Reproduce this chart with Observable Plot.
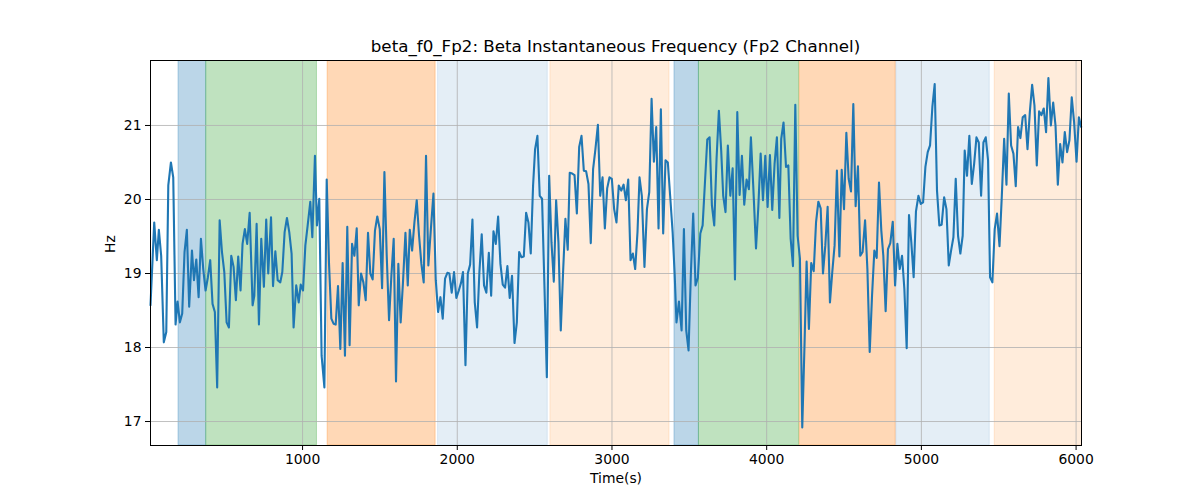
<!DOCTYPE html>
<html><head><meta charset="utf-8">
<script src="https://cdn.jsdelivr.net/npm/d3@7"></script>
<script src="https://cdn.jsdelivr.net/npm/@observablehq/plot@0.6"></script>
<style>
body{margin:0;background:#fff;font-family:"DejaVu Sans",sans-serif;}
#wrap{position:relative;width:1200px;height:500px;}
#title{position:absolute;left:150px;width:931px;top:36px;text-align:center;font-size:16.7px;line-height:20px;color:#000;}
#chart{position:absolute;left:0;top:0;}
</style></head><body>
<div id="wrap"><div id="chart"></div><div id="title">beta_f0_Fp2: Beta Instantaneous Frequency (Fp2 Channel)</div></div>
<script>
// ---- data ----
const t1 = [17,41,58,71,86,103,119,132,149,164,179,192,207,222,237,252,267,285,298,313,328,343,358,373,388,403,418,433,448,464,479,494,509,524,539,554,569,584,599,612,627,642,658];
const v1 = [18.57,19.69,19.18,19.59,19.24,18.07,18.21,20.19,20.50,20.30,18.31,18.62,18.34,18.46,19.29,19.59,18.55,19.31,18.91,19.19,18.68,19.47,19.06,18.77,18.95,19.18,18.59,18.48,17.46,19.72,19.29,19.02,18.34,18.27,19.24,19.09,18.64,19.23,18.77,19.40,19.60,19.40,19.82];
const t2 = [677,688,703,718,733,750,765,778,796,809,824,839,856,869,884,899,914,929,942,959,975,988,1003,1018,1033,1050,1063,1080,1093,1108,1123,1141,1156,1171,1186,1201,1214,1229,1244,1259,1274,1289,1304,1320,1335,1350];
const v2 = [18.57,18.70,19.67,18.31,19.47,18.82,19.73,19.00,19.76,18.83,19.30,18.91,18.88,19.02,19.56,19.75,19.56,19.27,18.27,18.84,18.61,18.85,18.77,19.38,19.65,19.97,19.49,20.59,19.65,20.01,17.89,17.46,20.27,19.13,18.39,18.32,18.31,18.83,17.98,19.14,17.89,19.63,18.03,19.40,19.24,19.61];
const t3 = [1363,1378,1393,1408,1423,1438,1453,1468,1483,1499,1514,1529,1544,1559,1574,1589,1604,1619,1634,1649,1665,1680,1693,1708,1723,1738,1753,1768,1783,1798,1813,1828,1846,1861,1876,1891,1906,1921,1936,1949,1964,1979,1994,2010,2025];
const v3 = [18.57,19.00,18.88,18.64,19.55,19.00,18.92,19.58,19.77,19.60,18.80,20.37,19.24,18.37,18.97,19.47,17.54,19.13,18.34,18.88,19.55,18.84,19.59,19.31,19.69,19.99,19.51,19.13,18.88,20.59,19.11,19.56,20.08,18.91,18.48,18.68,18.39,18.93,19.01,19.00,18.74,19.02,18.67,18.77,18.88];
const t4 = [2037,2053,2068,2083,2098,2113,2128,2143,2158,2173,2188,2204,2219,2234,2249,2264,2279,2294,2309,2324,2339,2354,2370,2385,2400,2415,2430,2445,2460,2475,2490,2503,2518,2533,2548,2564,2579,2594,2609,2624,2639,2654,2669,2684,2699,2714,2727];
const v4 = [19.02,17.76,19.00,19.12,19.73,18.61,18.27,19.02,19.53,18.84,18.74,19.28,18.70,19.57,19.40,19.77,19.13,18.85,18.81,19.10,18.67,18.97,18.06,18.34,19.29,19.22,19.23,19.82,19.69,19.27,20.19,20.68,20.86,20.05,20.01,18.79,17.60,20.32,19.42,18.89,19.99,19.42,18.23,19.02,19.74,19.32,20.36];
const t5 = [2743,2758,2773,2788,2803,2818,2833,2848,2863,2878,2893,2909,2924,2939,2954,2969,2984,2999,3014,3029,3044,3060,3075,3090,3105,3120,3135,3150,3165,3178,3193,3210,3226,3241,3256,3271,3286,3301,3316,3331,3346,3361,3376,3392];
const v5 = [20.35,20.33,19.81,20.71,20.86,20.39,20.38,20.21,19.41,20.41,20.68,21.01,20.05,20.30,19.61,20.15,20.30,20.28,19.87,19.69,20.19,20.12,20.20,19.99,20.27,19.18,19.27,19.06,19.56,20.30,20.05,19.09,19.87,20.10,21.36,20.51,20.98,19.61,21.22,19.54,20.53,20.50,20.05,19.56];
const t6 = [3405,3417,3433,3450,3465,3480,3495,3510,3525,3540,3555,3571,3586,3601,3616,3631,3646,3661,3676,3691,3706,3719,3734,3749,3765,3780,3795,3810,3825,3840,3855,3870,3885,3898,3913,3931,3946,3961,3976,3991,4006,4021,4036,4051,4066,4082];
const v6 = [19.00,18.34,18.62,18.23,19.60,18.23,17.96,19.00,19.81,18.84,18.94,19.54,19.65,20.23,20.81,20.84,19.92,19.65,20.55,21.20,20.66,20.05,19.83,20.73,20.05,20.42,18.92,21.18,20.06,20.59,19.93,20.27,20.14,20.84,20.19,19.34,19.90,20.62,19.99,20.59,19.90,20.60,19.86,20.48,20.84,19.75];
const t7 = [4094,4109,4125,4140,4155,4170,4185,4200,4215,4230,4245,4258,4273,4288,4304,4319,4334,4349,4364,4379,4394,4409,4424,4439,4454,4470,4485,4500,4515,4530,4545,4560,4575,4590,4605,4620,4636,4651,4666,4681,4696,4711,4726,4741];
const v7 = [20.82,21.04,20.44,20.46,19.47,19.10,21.28,19.51,19.20,16.92,18.07,19.16,18.25,19.14,19.03,19.69,19.97,19.88,19.00,19.38,19.90,18.61,19.02,19.38,20.39,19.23,20.40,19.87,20.90,20.28,20.11,21.29,19.91,20.45,19.24,19.29,19.72,19.06,17.94,18.70,19.31,19.21,20.23,19.58];
const t8 = [4754,4769,4784,4799,4815,4830,4845,4860,4875,4890,4905,4920,4935,4950,4965,4981,4996,5011,5026,5041,5056,5071,5086,5101,5116,5131,5147,5162,5177,5192,5207,5222,5237,5252,5267,5280,5295,5310,5326,5341,5356,5371,5386,5401,5416,5431,5444];
const v8 = [19.24,18.49,19.33,19.41,19.70,18.84,19.40,19.06,19.24,18.79,17.99,19.79,19.42,18.95,19.84,20.05,19.94,19.96,20.44,20.64,20.73,21.25,21.56,20.12,19.65,19.66,20.03,19.87,19.11,19.31,19.49,20.28,19.51,19.27,19.51,20.66,20.32,20.86,20.21,20.48,20.84,20.77,20.05,20.77,20.84,20.53,18.95];
const t9 = [5459,5474,5489,5505,5520,5535,5550,5565,5580,5595,5610,5625,5640,5655,5671,5686,5701,5716,5731,5746,5761,5776,5791,5806,5821,5837,5852,5867,5882,5897,5912,5927,5942,5957,5972,5987,6003,6018,6033];
const v9 = [18.88,19.60,19.81,19.37,20.05,20.82,20.20,21.43,20.73,20.62,20.18,20.98,20.83,21.11,21.14,20.68,21.18,21.55,21.27,20.46,21.19,21.14,21.23,20.91,21.64,21.00,21.31,21.00,20.20,20.75,20.50,20.91,20.64,20.80,21.38,21.05,20.51,21.11,20.98];

const spanStart = [198, 377, 1162, 1876, 2602, 3404, 3562, 4213, 4838, 5474];
const spanEnd   = [377, 1093, 1860, 2585, 3372, 3562, 4209, 4834, 5442, 6040];
const spanKind  = ["blue","green","orange","lightblue","lightorange","blue","green","orange","lightblue","lightorange"];
const xTicks = [1000, 2000, 3000, 4000, 5000, 6000];
const yTicks = [17, 18, 19, 20, 21];

// ---- build ----
const times = [].concat(t1,t2,t3,t4,t5,t6,t7,t8,t9);
const vals = [].concat(v1,v2,v3,v4,v5,v6,v7,v8,v9);
const series = times.map((t,i)=>({t, v: vals[i]}));
const spans = spanStart.map((s,i)=>({start:s, end:spanEnd[i], kind:spanKind[i]}));
const kindStyle = {
  blue:["#1f77b4",0.3], green:["#2ca02c",0.3], orange:["#ff7f0e",0.3],
  lightblue:["#1f77b4",0.12], lightorange:["#ff7f0e",0.15]
};
const spanMarks = Object.keys(kindStyle).map(k => Plot.rect(spans.filter(d=>d.kind===k), {
  x1:"start", x2:"end", fill:kindStyle[k][0], fillOpacity:kindStyle[k][1],
  stroke:kindStyle[k][0], strokeOpacity:kindStyle[k][1], strokeWidth:1, clip:true
}));

const chart = Plot.plot({
  width:1200, height:500,
  marginLeft:150, marginRight:119, marginTop:60, marginBottom:55,
  style:{fontFamily:"DejaVu Sans", fontSize:"13.9px", color:"#000", background:"#fff"},
  x:{domain:[17, 6035]},
  y:{domain:[16.676, 21.878]},
  marks:[
    ...spanMarks,
    Plot.gridX(xTicks, {stroke:"#b0b0b0", strokeOpacity:1, strokeWidth:0.8}),
    Plot.gridY(yTicks, {stroke:"#b0b0b0", strokeOpacity:1, strokeWidth:0.8}),
    Plot.line(series, {x:"t", y:"v", stroke:"#1f77b4", strokeWidth:2.1}),
    Plot.frame({stroke:"#000", strokeWidth:1}),
    Plot.axisX(xTicks, {tickSize:5, tickPadding:4, label:null, tickFormat:d=>String(d)}),
    Plot.axisY(yTicks, {tickSize:5, tickPadding:4, label:null, tickFormat:d=>String(d)}),
    Plot.text(["Time(s)"], {frameAnchor:"bottom", dy:37, fontSize:13.9, text:d=>d}),
    Plot.text(["Hz"], {frameAnchor:"left", dx:-40, rotate:-90, fontSize:13.9, text:d=>d})
  ]
});
document.getElementById("chart").appendChild(chart);
</script>
</body></html>
